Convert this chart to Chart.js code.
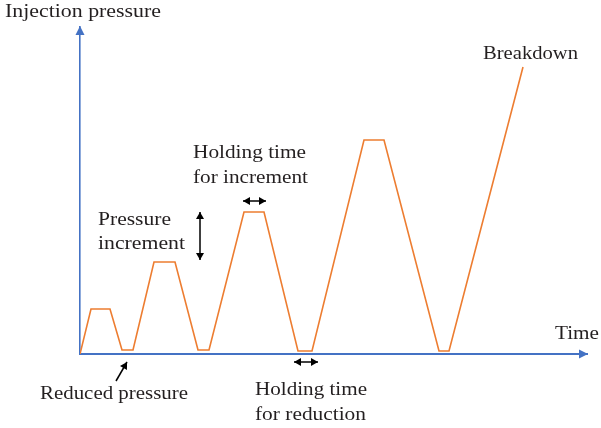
<!DOCTYPE html>
<html>
<head>
<meta charset="utf-8">
<script src="https://cdn.jsdelivr.net/npm/chart.js@4/dist/chart.umd.min.js"></script>
<style>
  html, body { margin: 0; padding: 0; background: #fff; }
  #wrap { width: 601px; height: 428px; position: relative; }
</style>
</head>
<body>
<div id="wrap"><canvas id="chart"></canvas></div>
<script>
// time steps and injection pressure (arbitrary units)
const times = [0, 11, 30, 42, 53, 74, 95, 118, 129, 164, 184, 218, 232, 284, 304, 359, 369, 443];
const pressures = [0, 45, 45, 4, 4, 92, 92, 4, 4, 142, 142, 3, 3, 214, 214, 3, 3, 287];
const xMax = 507;
const yMax = 327;

const axisBlue = '#4472C4';
const lineOrange = '#ED7D31';
const ink = '#231F20';
const serif = '"Liberation Serif", "DejaVu Serif", serif';

// text stretched to the width it has in the sketch
function label(ctx, text, x, y, width) {
    ctx.font = '19px ' + serif;
    const w = ctx.measureText(text).width;
    ctx.save();
    ctx.translate(x, y);
    ctx.scale(width / w, 1);
    ctx.fillStyle = ink;
    ctx.textBaseline = 'alphabetic';
    ctx.textAlign = 'left';
    ctx.fillText(text, 0, 0);
    ctx.restore();
}

function head(ctx, tipX, tipY, angle, len, half) {
    ctx.save();
    ctx.translate(tipX, tipY);
    ctx.rotate(angle);
    ctx.beginPath();
    ctx.moveTo(0, 0);
    ctx.lineTo(-len, -half);
    ctx.lineTo(-len, half);
    ctx.closePath();
    ctx.fill();
    ctx.restore();
}

function arrow(ctx, x1, y1, x2, y2, both) {
    const a = Math.atan2(y2 - y1, x2 - x1);
    ctx.beginPath();
    ctx.moveTo(x1, y1);
    ctx.lineTo(x2, y2);
    ctx.stroke();
    head(ctx, x2, y2, a, 7, 4);
    if (both) head(ctx, x1, y1, a + Math.PI, 7, 4);
}

const notes = {
    id: 'notes',
    afterDraw(chart) {
        const ctx = chart.ctx;
        const area = chart.chartArea;

        // axis arrow heads
        ctx.fillStyle = axisBlue;
        head(ctx, area.left, area.top - 1, -Math.PI / 2, 9, 4.5);
        head(ctx, area.right + 1, area.bottom, 0, 9, 4.5);

        // labels
        label(ctx, 'Injection pressure', 5, 17, 156);
        label(ctx, 'Time', 555, 339, 44);
        label(ctx, 'Breakdown', 483, 59, 95);
        label(ctx, 'Holding time', 193, 158, 113);
        label(ctx, 'for increment', 193, 183, 115);
        label(ctx, 'Pressure', 98, 225, 73);
        label(ctx, 'increment', 98, 249, 87);
        label(ctx, 'Reduced pressure', 40, 399, 148);
        label(ctx, 'Holding time', 255, 395, 112);
        label(ctx, 'for reduction', 255, 420, 111);

        // annotation arrows
        ctx.strokeStyle = '#000';
        ctx.fillStyle = '#000';
        ctx.lineWidth = 1.5;
        arrow(ctx, 243, 201, 266, 201, true);
        arrow(ctx, 200, 212, 200, 260, true);
        arrow(ctx, 294, 362, 318, 362, true);
        arrow(ctx, 116, 381, 127, 362, false);
    }
};

new Chart(document.getElementById('chart'), {
    type: 'line',
    data: {
        datasets: [{
            data: times.map((t, i) => ({ x: t, y: pressures[i] })),
            borderColor: lineOrange,
            borderWidth: 1.6,
            pointRadius: 0,
            tension: 0,
            fill: false
        }]
    },
    options: {
        responsive: true,
        maintainAspectRatio: false,
        animation: false,
        layout: { padding: { left: 80, top: 27, right: 14, bottom: 74 } },
        plugins: { legend: { display: false }, tooltip: { enabled: false } },
        scales: {
            x: {
                type: 'linear',
                min: 0,
                max: xMax,
                grid: { display: false, drawTicks: false },
                ticks: { display: false },
                border: { display: true, color: axisBlue, width: 2 }
            },
            y: {
                type: 'linear',
                min: 0,
                max: yMax,
                grid: { display: false, drawTicks: false },
                ticks: { display: false },
                border: { display: true, color: axisBlue, width: 1.6 }
            }
        }
    },
    plugins: [notes]
});
</script>
</body>
</html>
